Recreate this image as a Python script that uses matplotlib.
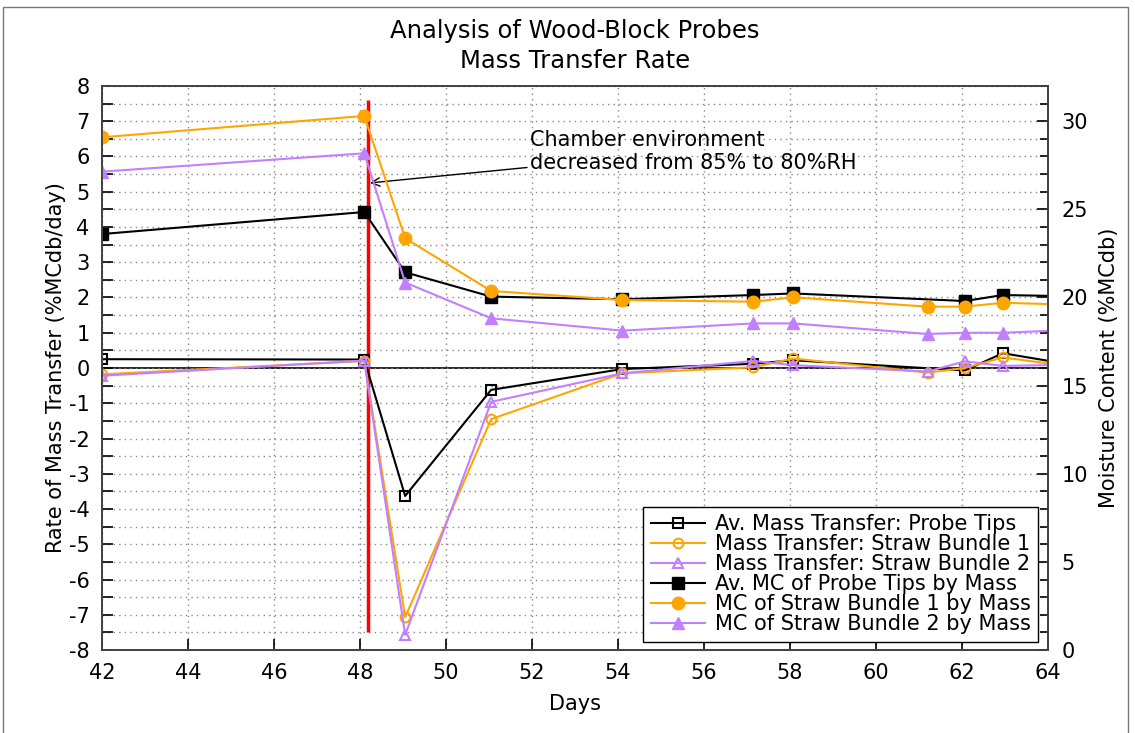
import numpy as np
import matplotlib
matplotlib.use('Agg')
import matplotlib.pyplot as plt
from matplotlib.patches import Rectangle
from matplotlib.ticker import MultipleLocator

plt.rcParams['axes.unicode_minus'] = False

# days of measurement (last point lies past the plotted range)
days = [42, 48.1, 49.05, 51.05, 54.1, 57.15, 58.07, 61.2, 62.07, 62.95, 65.0]
days_tips = [42, 48.1, 49.05, 51.05, 54.1, 57.15, 58.07, 62.07, 62.95, 65.0]

# rate of mass transfer (%MCdb/day), left axis
mt_tips = [0.25, 0.24, -3.63, -0.62, -0.03, 0.12, 0.22, -0.07, 0.42, 0.0]
mt_bundle1 = [-0.18, 0.2, -7.07, -1.45, -0.15, 0.02, 0.27, -0.13, 0.0, 0.3, -0.03]
mt_bundle2 = [-0.22, 0.21, -7.57, -0.96, -0.15, 0.2, 0.08, -0.1, 0.19, 0.06, 0.1]

# moisture content (%MCdb), right axis
mc_tips = [23.6, 24.85, 21.43, 20.05, 19.9, 20.14, 20.23, 19.8, 20.14, 20.05]
mc_bundle1 = [29.09, 30.3, 23.36, 20.37, 19.86, 19.76, 20.01, 19.48, 19.48, 19.7, 19.56]
mc_bundle2 = [27.14, 28.18, 20.85, 18.82, 18.12, 18.53, 18.53, 17.93, 18.0, 18.0, 18.2]

rh_change_day = 48.19
note = 'Chamber environment\ndecreased from 85% to 80%RH'

orange = '#ffa500'
purple = '#c080ff'
fs = 15

fig = plt.figure(figsize=(11.35, 7.33), dpi=100)
ax = fig.add_axes([0.0899, 0.1132, 0.8334, 0.7695])
ax2 = ax.twinx()

fig.patches.append(Rectangle((0.003, -0.01), 0.991, 1.0, transform=fig.transFigure,
                             fill=False, edgecolor='#777777', linewidth=1.0))

lines = []
lines += ax.plot(days_tips, mt_tips, color='black', marker='s', mfc='none', ms=7, mew=1.5,
                 lw=1.5, label='Av. Mass Transfer: Probe Tips')
lines += ax.plot(days, mt_bundle1, color=orange, marker='o', mfc='none', ms=7, mew=1.5,
                 lw=1.5, label='Mass Transfer: Straw Bundle 1')
lines += ax.plot(days, mt_bundle2, color=purple, marker='^', mfc='none', ms=7, mew=1.5,
                 lw=1.5, label='Mass Transfer: Straw Bundle 2')
lines += ax2.plot(days_tips, mc_tips, color='black', marker='s', ms=8,
                  lw=1.5, label='Av. MC of Probe Tips by Mass')
lines += ax2.plot(days, mc_bundle1, color=orange, marker='o', ms=9,
                  lw=1.5, label='MC of Straw Bundle 1 by Mass')
lines += ax2.plot(days, mc_bundle2, color=purple, marker='^', ms=9,
                  lw=1.5, label='MC of Straw Bundle 2 by Mass')

ax.axhline(0, color='black', lw=1.2, zorder=1.5)
ax.vlines(rh_change_day, -7.5, 7.6, color='red', lw=2.5, zorder=1.8)

ax.annotate(note, xy=(48.23, 5.25), xytext=(51.95, 6.15), fontsize=fs,
            ha='left', va='center', linespacing=1.2,
            arrowprops=dict(arrowstyle='->', color='black', lw=1.0, shrinkA=0, shrinkB=0))

ax.set_xlim(42, 64)
ax.set_ylim(-8, 8)
ax2.set_ylim(0, 32)

ax.xaxis.set_major_locator(MultipleLocator(2))
ax.yaxis.set_major_locator(MultipleLocator(1))
ax.yaxis.set_minor_locator(MultipleLocator(0.5))
ax2.yaxis.set_major_locator(MultipleLocator(5))
ax2.yaxis.set_minor_locator(MultipleLocator(1))

ax.grid(True, which='major', axis='x', linestyle=(0, (1, 3)), color='#888888', lw=1.0)
ax.grid(True, which='both', axis='y', linestyle=(0, (1, 3)), color='#888888', lw=1.0)

ax.tick_params(axis='both', which='major', direction='in', length=8, width=1.2,
               labelsize=fs, pad=9)
ax.tick_params(axis='y', which='minor', direction='in', length=8, width=1.2)
ax2.tick_params(axis='y', which='major', direction='in', length=8, width=1.2,
                labelsize=fs, pad=10)
ax2.tick_params(axis='y', which='minor', direction='in', length=6, width=1.2)

for a in (ax, ax2):
    for s in a.spines.values():
        s.set_color('#444444')
        s.set_linewidth(1.3)

ax.set_xlabel('Days', fontsize=fs, labelpad=8)
ax.set_ylabel('Rate of Mass Transfer (%MCdb/day)', fontsize=fs, labelpad=2)
ax2.set_ylabel('Moisture Content (%MCdb)', fontsize=fs, labelpad=8)
ax.set_title('Analysis of Wood-Block Probes\nMass Transfer Rate', fontsize=17.5,
             linespacing=1.3, pad=13)

leg = ax2.legend(handles=lines, loc='lower right', bbox_to_anchor=(0.99, 0.015),
                 fontsize=fs, frameon=True, fancybox=False, framealpha=1,
                 edgecolor='black', labelspacing=0.0, handlelength=2.6,
                 handletextpad=0.5, borderpad=0.35, borderaxespad=0)
leg.get_frame().set_linewidth(1.0)

fig.savefig('out.png', dpi=100)
